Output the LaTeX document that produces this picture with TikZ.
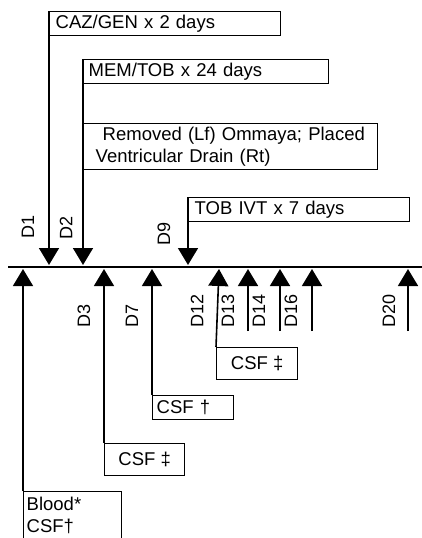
\documentclass[tikz,border=0pt]{standalone}
\usepackage{fontspec}
\setmainfont{Liberation Sans}
\usetikzlibrary{arrows.meta}
\begin{document}
\begin{tikzpicture}[x=1pt,y=-1pt,
  line width=1.6pt,
  box/.style={draw, line width=1.4pt, anchor=north west, inner sep=0pt, font=\fontsize{18.5}{22}\selectfont},
  arr/.style={-{Triangle[width=20pt,length=17pt]}},
  lbl/.style={rotate=90, anchor=west, inner sep=0pt, font=\fontsize{18}{20}\selectfont}]
\useasboundingbox (0,0) rectangle (422,538);
% timeline
\coordinate (tl) at (8,267);
\coordinate (tr) at (422,267);
\draw (tl) -- (tr);
% top boxes
\node[box, minimum width=231pt, minimum height=24pt, text width=219pt, align=left] (caz) at (49,11) {CAZ/GEN x 2 days};
\node[box, minimum width=245pt, minimum height=24pt, text width=235pt, align=left] (mem) at (83,59) {MEM/TOB x 24 days};
\node[box, minimum width=294pt, minimum height=46pt, text width=270pt, align=left] (rem) at (83,123) {\hspace{7pt}Removed (Lf) Ommaya; Placed\\Ventricular Drain (Rt)};
\node[box, minimum width=221pt, minimum height=24pt, text width=209pt, align=left] (tob) at (188,197) {TOB IVT x 7 days};
% down arrow tips
\coordinate (d1) at (49,265);
\coordinate (d2) at (83,265);
\coordinate (d9) at (188,265);
\draw[arr] (caz.north west) -- (d1);
\draw[arr] (mem.north west) -- (d2);
\draw[arr] (tob.north west) -- (d9);
% bottom boxes
\node[box, minimum width=98pt, minimum height=47pt, text width=92pt, align=left] (blood) at (23,491) {Blood*\\CSF†};
\node[box, minimum width=80pt, minimum height=32pt, align=center] (csf3) at (104,443) {CSF ‡};
\node[box, minimum width=81pt, minimum height=24pt, text width=73pt, align=left] (csf7) at (152,395) {CSF †};
\node[box, minimum width=81pt, minimum height=32pt, align=center] (csf13) at (216,347) {CSF ‡};
% up arrow tips
\coordinate (u1) at (23,269);
\coordinate (u3) at (104,269);
\coordinate (u7) at (152,269);
\coordinate (u13) at (219,269);
\coordinate (u14) at (248,269);
\coordinate (u16) at (280,269);
\coordinate (u17) at (312,269);
\coordinate (u20) at (408,269);
\coordinate (e14) at (248,331);
\coordinate (e16) at (280,331);
\coordinate (e17) at (312,331);
\coordinate (e20) at (408,331);
\draw[arr] (blood.north west) -- (u1);
\draw[arr] (csf3.north west) -- (u3);
\draw[arr] (csf7.north west) -- (u7);
\draw[arr] (csf13.north west) -- (u13);
\draw[arr] (e14) -- (u14);
\draw[arr] (e16) -- (u16);
\draw[arr] (e17) -- (u17);
\draw[arr] (e20) -- (u20);
% labels
\node[lbl] (l1) at (28,239) {D1};
\node[lbl] (l2) at (66,240) {D2};
\node[lbl] (l9) at (164,246) {D9};
\node[lbl] (l3) at (84,328) {D3};
\node[lbl] (l7) at (132,328) {D7};
\node[lbl] (l12) at (197,328) {D12};
\node[lbl] (l13) at (228,328) {D13};
\node[lbl] (l14) at (259,328) {D14};
\node[lbl] (l16) at (291,328) {D16};
\node[lbl] (l20) at (389,328) {D20};
\end{tikzpicture}
\end{document}
